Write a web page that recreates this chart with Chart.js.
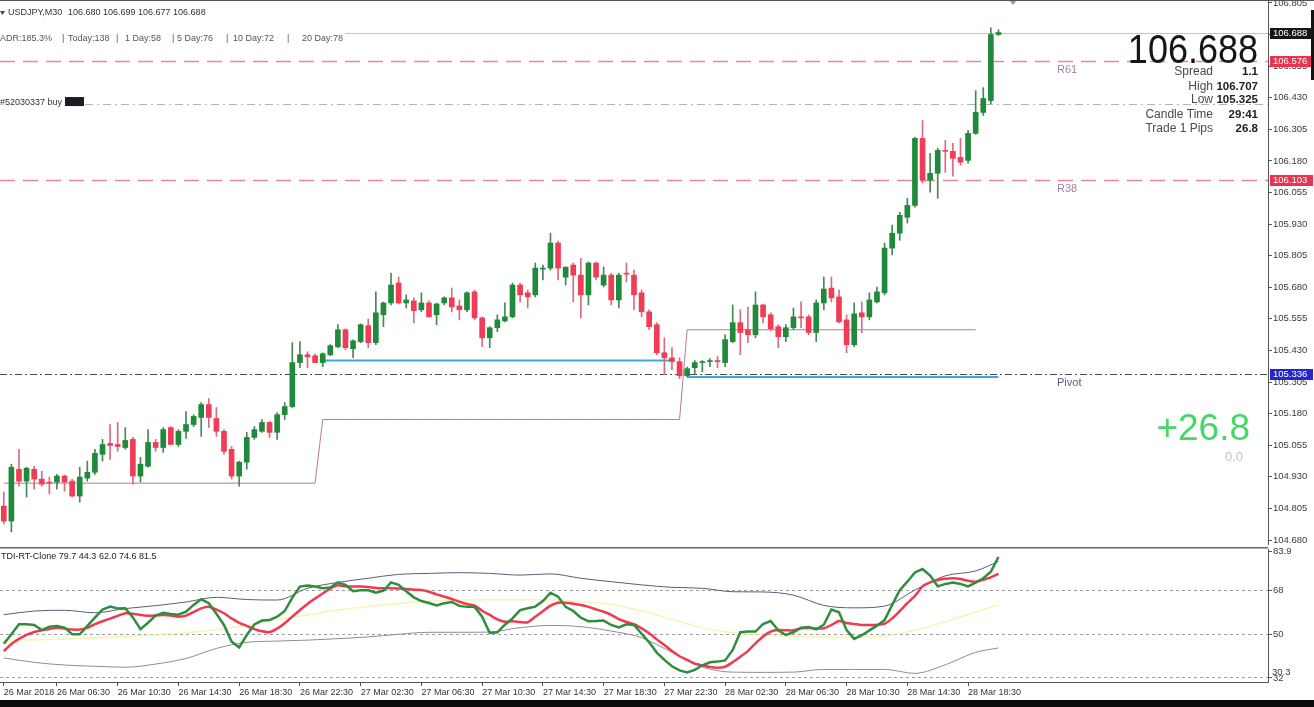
<!DOCTYPE html>
<html>
<head>
<meta charset="utf-8">
<script src="https://cdn.jsdelivr.net/npm/chart.js@4/dist/chart.umd.min.js"></script>
<style>
  html, body { margin: 0; padding: 0; background: #fff; width: 1314px; height: 707px; overflow: hidden; }
  #main { position: absolute; left: 0; top: 0; }
  #tdi { position: absolute; left: 0; top: 547px; }
  #topEdge { position: absolute; left: 0; top: 0; width: 1314px; height: 1px; background: #555; }
  #rightEdge { position: absolute; left: 1311px; top: 10px; width: 3px; height: 70px; background: #111; }
  #bottomEdge { position: absolute; left: 0; top: 700px; width: 1314px; height: 7px; background: #0b0b0b; }
</style>
</head>
<body>
<canvas id="main" width="1314" height="546"></canvas>
<canvas id="tdi" width="1314" height="153"></canvas>
<div id="topEdge"></div>
<div id="rightEdge"></div>
<div id="bottomEdge"></div>
<script>
// USDJPY M30, 26-28 Mar 2018 - candles
const slotCount = 167; // 132 bars + chart shift space on the right

const open = [104.814,104.755,104.960,104.913,104.960,104.921,104.909,104.909,104.933,104.913,
  104.854,104.925,104.948,105.019,105.062,105.058,105.046,105.078,104.933,104.972,
  105.066,105.046,105.125,105.058,105.110,105.137,105.165,105.216,105.161,105.110,
  105.039,104.933,104.988,105.086,105.110,105.145,105.106,105.176,105.208,105.382,
  105.413,105.409,105.382,105.413,105.445,105.512,105.437,105.465,105.528,105.461,
  105.571,105.618,105.697,105.618,105.626,105.591,105.618,105.571,105.618,105.638,
  105.606,105.591,105.662,105.559,105.480,105.520,105.547,105.563,105.689,105.658,
  105.650,105.752,105.756,105.855,105.720,105.768,105.728,105.650,105.776,105.689,
  105.728,105.630,105.736,105.728,105.658,105.583,105.532,105.421,105.401,105.386,
  105.330,105.362,105.382,105.386,105.390,105.382,105.465,105.540,105.512,105.492,
  105.610,105.571,105.524,105.484,105.520,105.563,105.563,105.501,105.618,105.677,
  105.642,105.551,105.453,105.579,105.563,105.622,105.658,105.835,105.894,105.957,
  106.004,106.269,106.104,106.131,106.222,106.218,106.194,106.182,106.289,106.372,
  106.419,106.680];
const high = [104.870,104.980,105.039,104.968,104.972,104.952,104.929,104.940,104.937,104.921,
  104.968,104.992,105.039,105.078,105.137,105.145,105.125,105.086,105.007,105.117,
  105.078,105.125,105.129,105.117,105.188,105.176,105.224,105.240,105.204,105.117,
  105.050,104.992,105.106,105.129,105.157,105.149,105.184,105.224,105.461,105.465,
  105.425,105.417,105.421,105.453,105.532,105.516,105.472,105.535,105.555,105.662,
  105.622,105.736,105.721,105.650,105.638,105.658,105.626,105.618,105.642,105.677,
  105.630,105.662,105.669,105.563,105.524,105.571,105.618,105.697,105.697,105.669,
  105.776,105.768,105.894,105.863,105.760,105.776,105.795,105.780,105.780,105.760,
  105.736,105.736,105.776,105.748,105.669,105.591,105.540,105.480,105.441,105.401,
  105.364,105.390,105.390,105.398,105.406,105.492,105.610,105.591,105.602,105.662,
  105.614,105.579,105.532,105.532,105.598,105.622,105.571,105.630,105.721,105.721,
  105.669,105.571,105.618,105.622,105.658,105.681,105.855,105.926,105.977,106.032,
  106.273,106.340,106.210,106.230,106.261,106.250,106.269,106.301,106.458,106.470,
  106.707,106.699];
const low = [104.743,104.712,104.893,104.850,104.881,104.893,104.862,104.881,104.873,104.850,
  104.830,104.913,104.940,104.992,104.999,105.031,105.039,104.901,104.909,104.968,
  105.031,105.027,105.058,105.050,105.082,105.129,105.090,105.125,105.090,105.019,
  104.921,104.893,104.960,105.078,105.106,105.086,105.078,105.157,105.204,105.362,
  105.362,105.382,105.366,105.409,105.441,105.433,105.401,105.461,105.441,105.453,
  105.524,105.610,105.614,105.598,105.539,105.583,105.563,105.532,105.610,105.583,
  105.551,105.583,105.551,105.445,105.441,105.504,105.543,105.559,105.622,105.598,
  105.642,105.709,105.748,105.709,105.689,105.622,105.559,105.610,105.709,105.681,
  105.610,105.598,105.701,105.591,105.563,105.512,105.413,105.334,105.354,105.318,
  105.325,105.335,105.346,105.366,105.362,105.366,105.461,105.413,105.461,105.480,
  105.539,105.508,105.441,105.465,105.512,105.520,105.492,105.465,105.591,105.622,
  105.539,105.421,105.445,105.500,105.551,105.618,105.650,105.808,105.866,105.934,
  105.997,106.092,106.056,106.032,106.135,106.120,106.163,106.171,106.285,106.360,
  106.407,106.677];
const close = [104.755,104.968,104.913,104.964,104.921,104.901,104.905,104.933,104.909,104.854,
  104.929,104.948,105.023,105.058,105.054,105.050,105.074,104.933,104.980,105.066,
  105.046,105.117,105.058,105.110,105.137,105.169,105.216,105.165,105.110,105.031,
  104.933,104.988,105.086,105.117,105.145,105.106,105.176,105.208,105.382,105.413,
  105.405,105.382,105.417,105.449,105.512,105.441,105.468,105.532,105.461,105.579,
  105.618,105.689,105.618,105.630,105.587,105.618,105.563,105.614,105.638,105.602,
  105.591,105.658,105.559,105.480,105.520,105.551,105.563,105.689,105.650,105.642,
  105.756,105.756,105.855,105.756,105.760,105.728,105.650,105.776,105.720,105.728,
  105.630,105.728,105.732,105.650,105.583,105.524,105.421,105.401,105.386,105.330,
  105.358,105.382,105.386,105.390,105.386,105.473,105.540,105.501,105.492,105.610,
  105.563,105.516,105.484,105.520,105.563,105.559,105.501,105.618,105.673,105.638,
  105.543,105.453,105.575,105.563,105.630,105.662,105.835,105.894,105.965,106.004,
  106.269,106.104,106.131,106.222,106.218,106.190,106.175,106.289,106.372,106.427,
  106.680,106.688];

const priceTicks = [104.680,104.805,104.930,105.055,105.180,105.305,105.430,105.555,105.680,
  105.805,105.930,106.055,106.180,106.305,106.430,106.555,106.680,106.805];

// daily level (step line) and support lines, by bar index
const stepStarts = [0, 42, 90];
const stepEnds = [41, 89, 128];
const stepValues = [104.905, 105.157, 105.512];
const supportStarts = [42, 90];
const supportEnds = [88, 131];
const supportValues = [105.390, 105.325];

const levelNames = ['R61', 'R38', 'Pivot'];
const levelValues = [106.576, 106.103, 105.336];
const bidPrice = 106.688;
const orderPrice = 106.405;

const infoRows = [['Spread', '1.1'], ['High', '106.707'], ['Low', '105.325'],
  ['Candle Time', '29:41'], ['Trade 1 Pips', '26.8']];

// time axis
const tickIndex = [0, 7, 15, 23, 31, 39, 47, 55, 63, 71, 79, 87, 95, 103, 111, 119, 127];
const tickLabels = ['26 Mar 2018', '26 Mar 06:30', '26 Mar 10:30', '26 Mar 14:30', '26 Mar 18:30',
  '26 Mar 22:30', '27 Mar 02:30', '27 Mar 06:30', '27 Mar 10:30', '27 Mar 14:30', '27 Mar 18:30',
  '27 Mar 22:30', '28 Mar 02:30', '28 Mar 06:30', '28 Mar 10:30', '28 Mar 14:30', '28 Mar 18:30'];

// TDI window
const tdiGreen = [46.0,49.9,54.0,54.0,53.7,51.6,53.0,53.3,52.6,49.9,
  49.9,53.3,56.7,60.0,61.2,60.4,60.5,56.8,52.0,54.6,
  57.5,58.7,58.2,57.9,59.1,61.9,64.2,62.6,58.3,53.7,
  46.9,44.5,49.6,53.9,55.5,55.7,57.1,59.4,64.9,69.4,
  69.8,69.4,68.7,69.0,71.1,70.1,67.5,67.9,67.9,66.9,
  67.7,71.1,70.1,67.5,65.0,63.5,62.7,61.7,62.6,63.1,
  61.5,61.1,61.1,57.1,50.4,50.7,53.8,56.4,59.8,60.5,
  61.2,63.5,66.9,65.3,61.1,59.4,56.7,55.2,55.3,55.5,
  53.7,52.7,54.0,53.7,50.1,46.6,42.4,39.4,36.8,35.1,
  34.3,35.3,37.2,38.4,38.7,39.2,43.5,50.7,51.0,51.0,
  54.1,55.3,51.5,49.6,50.7,52.6,52.9,51.9,53.8,60.0,
  58.9,51.6,48.0,49.5,51.5,53.4,55.7,61.9,67.9,71.4,
  75.2,76.6,73.9,69.5,70.5,71.1,70.5,69.5,71.0,72.8,
  75.5,81.5];
const tdiRed = [43.0,45.9,48.0,49.6,50.8,51.5,52.0,52.6,52.2,51.8,
  51.8,52.5,54.0,55.2,56.3,57.4,58.5,58.3,57.8,57.5,
  57.6,57.8,57.6,57.1,57.5,59.0,60.5,61.1,60.0,58.5,
  56.4,54.6,53.3,52.0,51.1,50.8,52.2,54.4,57.1,59.8,
  62.3,64.5,66.6,68.6,69.9,69.5,69.4,69.4,69.2,68.8,
  68.7,68.7,68.6,68.4,68.1,68.0,67.3,66.2,65.3,64.3,
  63.2,62.3,61.6,59.5,57.8,56.0,55.0,55.2,54.9,54.8,
  57.1,59.3,61.6,62.8,62.8,62.4,61.9,61.1,60.1,59.1,
  57.8,56.1,54.9,54.0,52.3,50.3,47.8,45.5,43.0,40.9,
  39.4,37.9,37.2,36.5,36.2,36.6,38.5,40.7,43.0,46.2,
  49.0,51.0,51.6,51.5,51.5,52.3,52.5,52.3,52.3,53.7,
  55.3,54.5,54.1,53.7,53.7,53.8,54.2,56.4,59.4,62.6,
  65.6,69.5,71.1,72.1,72.6,72.8,72.5,71.8,71.4,72.2,
  73.2,74.6];
const bandIdx = [1,5,9,13,17,21,25,29,33,37,41,45,49,53,57,61,65,69,73,77,81,85,89,93,97,101,105,109,113,117,121,125,129,132];
const upperBand = [57.9,59.4,59.7,58.7,60.4,61.6,63.1,65.0,64.1,63.9,68.7,71.1,72.8,74.4,74.8,75.1,74.8,
  74.1,74.6,72.8,71.4,70.1,69.1,68.7,67.3,67.2,65.9,61.7,60.7,61.4,68.0,73.8,75.8,79.7];
const lowerBand = [40.2,38.4,37.3,36.8,36.4,37.7,40.0,44.1,46.6,47.1,47.5,48.1,48.8,49.9,50.7,50.7,50.8,
  52.6,53.5,53.0,51.2,48.5,42.5,36.5,34.4,34.3,34.4,35.5,35.5,35.5,33.9,37.4,42.5,44.3];
const baseIdx = [1,9,17,25,33,37,41,45,49,53,57,61,65,69,73,77,81,85,89,93,97,101,105,109,113,117,121,125,129,132];
const baseLine = [47.5,48,49,50.5,53.5,56,57.8,59.8,61.3,62.5,63.5,63.9,64,64,64,63.3,62.1,59.5,56,52.5,
  50.5,49.5,49,48.8,48.8,49.2,51.5,55,59,62];
const tdiTicks = [32, 50, 68, 83.9];

const FONT = '"Liberation Sans", Arial, sans-serif';
Chart.defaults.font.family = FONT;

const slots = Array.from({length: slotCount}, (_, i) => i + 1);
const bull = close.map((c, i) => c >= open[i]);

function segments(starts, ends, values) {
  const out = new Array(slotCount).fill(null);
  starts.forEach((s, k) => { for (let i = s; i <= ends[k]; i++) out[i] = values[k]; });
  return out;
}
function sparse(idx, vals) {
  const out = new Array(slotCount).fill(null);
  idx.forEach((n, k) => { out[n - 1] = vals[k]; });
  return out;
}
function put(ctx, s, x, y, size, color, opt) {
  opt = opt || {};
  ctx.save();
  ctx.font = (opt.bold ? 'bold ' : '') + size + 'px ' + FONT;
  ctx.fillStyle = color;
  ctx.textAlign = opt.align || 'left';
  ctx.textBaseline = opt.base || 'middle';
  ctx.fillText(s, x, y);
  ctx.restore();
}
function hline(ctx, area, y, x0, color, width, dash) {
  ctx.save();
  ctx.strokeStyle = color;
  ctx.lineWidth = width;
  ctx.setLineDash(dash);
  ctx.beginPath();
  ctx.moveTo(x0, Math.round(y) + 0.5);
  ctx.lineTo(area.right, Math.round(y) + 0.5);
  ctx.stroke();
  ctx.restore();
}

const mainDecor = {
  id: 'mainDecor',
  beforeDatasetsDraw(chart) {
    const {ctx, chartArea: a} = chart;
    const y = chart.scales.y;
    hline(ctx, a, y.getPixelForValue(bidPrice), 345, '#c4c4c4', 1, []);
    hline(ctx, a, y.getPixelForValue(levelValues[0]), 0, '#e6869f', 1.5, [15, 8]);
    hline(ctx, a, y.getPixelForValue(levelValues[1]), 0, '#e6869f', 1.5, [15, 8]);
    hline(ctx, a, y.getPixelForValue(orderPrice), 85, '#b4b4b4', 1, [8, 4, 2, 4]);
    hline(ctx, a, y.getPixelForValue(levelValues[2]), 0, '#4a4a4a', 1, [7, 3, 2, 3]);
  },
  afterDraw(chart) {
    const {ctx} = chart;
    const y = chart.scales.y;
    // header
    ctx.fillStyle = '#444';
    ctx.beginPath(); ctx.moveTo(0, 11); ctx.lineTo(5, 11); ctx.lineTo(2.5, 15); ctx.fill();
    put(ctx, 'USDJPY,M30', 8, 13, 9, '#333');
    put(ctx, '106.680 106.699 106.677 106.688', 68, 13, 9, '#333');
    const adr = [['ADR:185.3%', 0], ['|', 62], ['Today:138', 68], ['|', 116], ['1 Day:58', 125],
      ['|', 172], ['5 Day:76', 177], ['|', 226], ['10 Day:72', 233], ['|', 287], ['20 Day:78', 302]];
    adr.forEach(([s, x]) => put(ctx, s, x, 39, 9, '#555'));
    // order label
    put(ctx, '#52030337 buy', 0, y.getPixelForValue(orderPrice) - 2, 9, '#333');
    ctx.fillStyle = '#1c1c24';
    ctx.fillRect(65, y.getPixelForValue(orderPrice) - 7, 19, 9);
    // level labels
    levelNames.forEach((n, i) => {
      put(ctx, n, 1057, y.getPixelForValue(levelValues[i]) + 9, 11, i < 2 ? '#a27f9c' : '#56607e');
    });
    // big bid price
    ctx.save();
    ctx.translate(1258, 63);
    ctx.scale(0.9, 1);
    put(ctx, '106.688', 0, 0, 40, '#161616', {align: 'right', base: 'alphabetic'});
    ctx.restore();
    const rowY = [72, 87, 100, 115, 129];
    infoRows.forEach(([lab, val], i) => {
      put(ctx, lab, 1213, rowY[i], 12, '#4a4a4a', {align: 'right'});
      put(ctx, val, 1258, rowY[i], 11.5, '#202020', {align: 'right', bold: true});
    });
    put(ctx, '+26.8', 1250, 440, 37, '#46d867', {align: 'right', base: 'alphabetic'});
    put(ctx, '0.0', 1243, 461, 13, '#c2c2c2', {align: 'right', base: 'alphabetic'});
    // chart shift marker
    ctx.fillStyle = '#9a9a9a';
    ctx.beginPath(); ctx.moveTo(1009, 0); ctx.lineTo(1017, 0); ctx.lineTo(1013, 5); ctx.fill();
    // price boxes on the axis
    const boxes = [[bidPrice, '#161616'], [levelValues[0], '#e9344f'], [levelValues[1], '#e9344f'], [levelValues[2], '#2727c9']];
    boxes.forEach(([v, bg]) => {
      const py = Math.round(y.getPixelForValue(v));
      ctx.fillStyle = bg;
      ctx.fillRect(1270, py - 5, 43, 11);
      put(ctx, v.toFixed(3), 1273, py + 0.5, 9.5, '#fff');
    });
  }
};

new Chart(document.getElementById('main'), {
  type: 'bar',
  data: {
    labels: slots,
    datasets: [
      {
        label: 'body',
        data: open.map((o, i) => [o, close[i]]),
        backgroundColor: bull.map(b => b ? '#208a3b' : '#f23b54'),
        barThickness: 5, minBarLength: 1, grouped: false
      },
      {
        label: 'wick',
        data: low.map((l, i) => [l, high[i]]),
        backgroundColor: bull.map(b => b ? '#4a8556' : '#d76b80'),
        barThickness: 1, grouped: false
      },
      {
        type: 'line', label: 'support',
        data: segments(supportStarts, supportEnds, supportValues),
        borderColor: '#3ea7dd', borderWidth: 2, pointRadius: 0, spanGaps: false
      },
      {
        type: 'line', label: 'daily',
        data: segments(stepStarts, stepEnds, stepValues),
        borderColor: '#b47a98', borderWidth: 1, pointRadius: 0
      }
    ]
  },
  options: {
    responsive: false,
    animation: false,
    events: [],
    layout: {padding: {top: 0, right: 0, bottom: 1, left: 0}},
    plugins: {legend: {display: false}, tooltip: {enabled: false}},
    scales: {
      x: {display: false},
      y: {
        position: 'right',
        min: 104.664,
        max: 106.809,
        afterBuildTicks: s => { s.ticks = priceTicks.map(v => ({value: v})); },
        afterFit: s => { s.width = 46; },
        ticks: {
          callback: v => Number(v).toFixed(3),
          font: {size: 9.5, lineHeight: 0.2},
          color: '#3a3a3a',
          padding: 1
        },
        grid: {drawOnChartArea: false, tickLength: 4, color: '#555'},
        border: {color: '#555'}
      }
    }
  },
  plugins: [mainDecor]
});

const tdiDecor = {
  id: 'tdiDecor',
  beforeDraw(chart) {
    const {ctx} = chart;
    ctx.fillStyle = '#6a6a6a';
    ctx.fillRect(0, 0, 1268, 1);
    ctx.fillStyle = '#b0b0b0';
    ctx.fillRect(0, 1, 1268, 1);
  },
  afterDraw(chart) {
    const {ctx} = chart;
    put(ctx, 'TDI-RT-Clone 79.7 44.3 62.0 74.6 81.5', 1, 10, 9, '#222');
    put(ctx, '30.3', 1272, 125, 9.5, '#3a3a3a');
  }
};

new Chart(document.getElementById('tdi'), {
  type: 'line',
  data: {
    labels: slots,
    datasets: [
      {label: 'price', data: tdiGreen, borderColor: '#2f8d3e', borderWidth: 2.5, tension: 0},
      {label: 'signal', data: tdiRed, borderColor: '#f03a52', borderWidth: 2.5, tension: 0.2},
      {label: 'upper', data: sparse(bandIdx, upperBand), borderColor: '#5c5c78', borderWidth: 1, spanGaps: true, cubicInterpolationMode: 'monotone'},
      {label: 'lower', data: sparse(bandIdx, lowerBand), borderColor: '#8c8c98', borderWidth: 1, spanGaps: true, cubicInterpolationMode: 'monotone'},
      {label: 'base', data: sparse(baseIdx, baseLine), borderColor: 'rgba(240,238,130,0.6)', borderWidth: 1.5, spanGaps: true, cubicInterpolationMode: 'monotone'}
    ]
  },
  options: {
    responsive: false,
    animation: false,
    events: [],
    layout: {padding: {top: 2, right: 0, bottom: 0, left: 0}},
    elements: {point: {radius: 0}},
    plugins: {legend: {display: false}, tooltip: {enabled: false}},
    scales: {
      x: {
        offset: true,
        afterFit: s => { s.height = 18; },
        ticks: {
          autoSkip: false, maxRotation: 0, minRotation: 0, align: 'start', padding: 1,
          font: {size: 9}, color: '#333',
          callback: (v, i) => { const k = tickIndex.indexOf(i); return k >= 0 ? tickLabels[k] : null; }
        },
        grid: {drawOnChartArea: false, tickLength: 4, color: '#555'},
        border: {color: '#555'}
      },
      y: {
        position: 'right',
        min: 30.36,
        max: 84.78,
        afterBuildTicks: s => { s.ticks = tdiTicks.map(v => ({value: v})); },
        afterFit: s => { s.width = 46; },
        ticks: {callback: v => String(v), font: {size: 9.5, lineHeight: 0.2}, color: '#3a3a3a', padding: 1},
        grid: {
          color: c => (c.tick && c.tick.value === 83.9) ? 'rgba(0,0,0,0)' : '#9c9c9c',
          tickColor: '#555', tickLength: 4
        },
        border: {color: '#555', dash: [3, 3]}
      }
    }
  },
  plugins: [tdiDecor]
});
</script>
</body>
</html>
